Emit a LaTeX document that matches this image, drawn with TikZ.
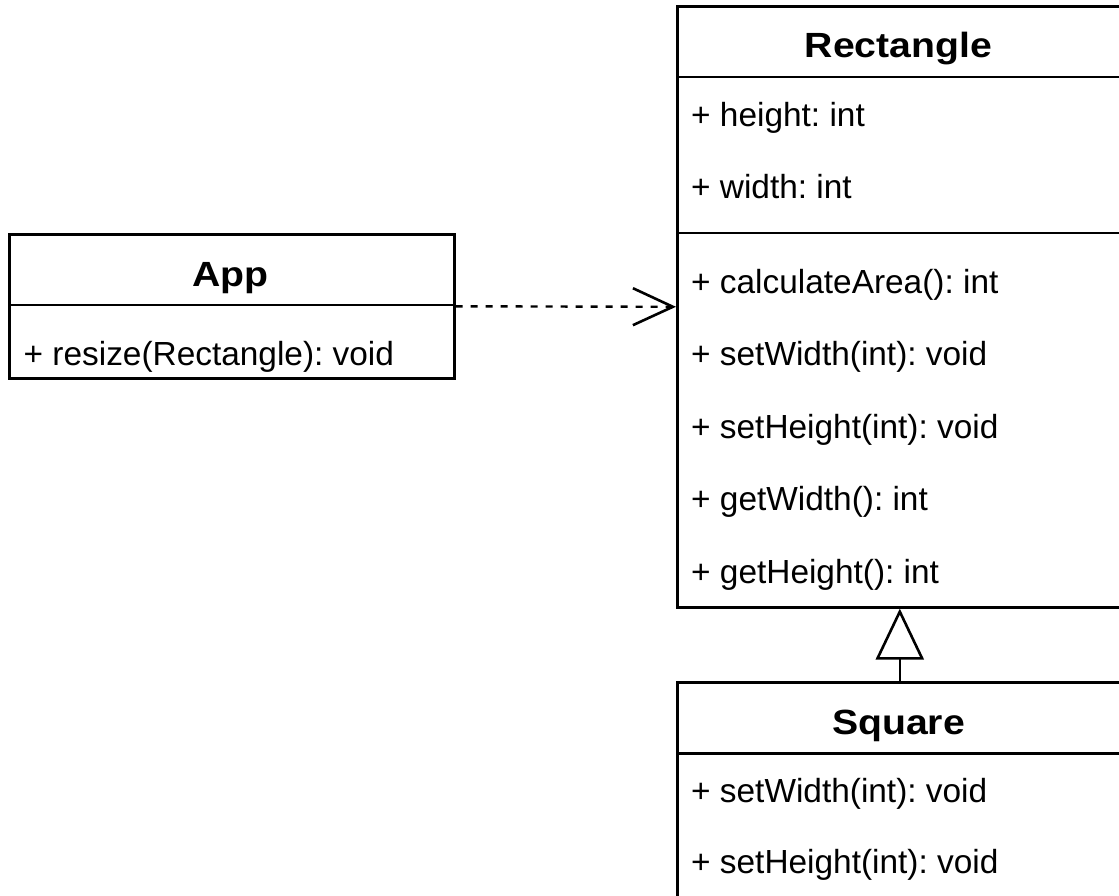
\documentclass[tikz,border=0pt]{standalone}
\usepackage{fontspec}
\setmainfont{Liberation Sans}
\newfontfamily\titlefont{Liberation Sans Bold}[FakeStretch=1.12]
\usetikzlibrary{arrows.meta}
\frenchspacing
\begin{document}
\begin{tikzpicture}[x=1pt,y=-1pt,
  box/.style={draw=black,line width=2.6pt,fill=white,inner sep=0pt,anchor=north west,minimum width=445pt},
  sep/.style={draw=black,line width=2.6pt},
  member/.style={anchor=base west,inner sep=0pt,font=\fontsize{33.4}{40}\selectfont},
  title/.style={anchor=base,inner sep=0pt,font=\titlefont\fontsize{35}{42}\selectfont},
  dep/.style={draw=black,line width=2.4pt,dash pattern=on 7pt off 8pt,-{Straight Barb[length=40pt,width=37pt,line width=2.6pt]}},
  gen/.style={draw=black,line width=2.6pt,-{Triangle[open,length=51pt,width=48pt,line width=2.6pt,fill=white]}}
]
\useasboundingbox (0,0) rectangle (1119,896);
\fill[white] (0,0) rectangle (1119,896);

% App
\node[box,minimum height=144pt] (app) at (8,233) {};
\draw[sep] (8,305) -- (453,305);
\node[title] (apptitle) at (230.5,286) {App};
\node[member] (app1) at (23.5,365) {+ resize(Rectangle): void};

% Rectangle
\node[box,minimum height=601pt] (rect) at (676,5) {};
\draw[sep] (676,77) -- (1121,77);
\draw[sep] (676,233) -- (1121,233);
\node[title] (recttitle) at (898.5,58) {Rectangle};
\node[member] (r1) at (691,127) {+ height: int};
\node[member] (r2) at (691,199) {+ width: int};
\node[member] (r3) at (691,293) {+ calculateArea(): int};
\node[member] (r4) at (691,365.5) {+ setWidth(int): void};
\node[member] (r5) at (691,438) {+ setHeight(int): void};
\node[member] (r6) at (691,510.5) {+ getWidth(): int};
\node[member] (r7) at (691,583) {+ getHeight(): int};

% Square
\node[box,minimum height=225pt] (square) at (676,681) {};
\draw[sep] (676,753.5) -- (1121,753.5);
\node[title] (sqtitle) at (898.5,734.5) {Square};
\node[member] (s1) at (691,802) {+ setWidth(int): void};
\node[member] (s2) at (691,873.5) {+ setHeight(int): void};

% connectors
\draw[dep] (app.east) -- (rect.west);
\draw[gen] (square.north) -- (rect.south);
\end{tikzpicture}
\end{document}
